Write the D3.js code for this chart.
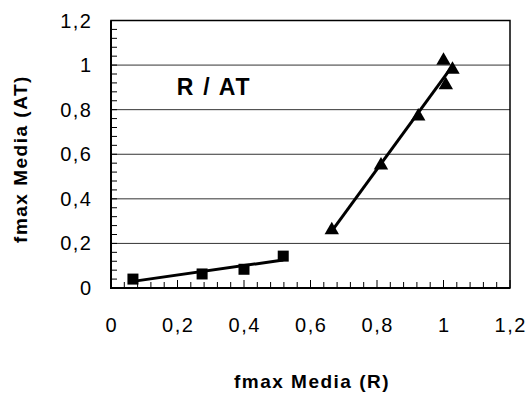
<!DOCTYPE html>
<html>
<head>
<meta charset="utf-8">
<script src="https://d3js.org/d3.v7.min.js"></script>
<style>
    body { margin: 0; background: #fff; }
    svg text { font-family: 'Liberation Sans', Arial, sans-serif; fill: #000; }
</style>
</head>
<body>
<svg id="chart" width="528" height="394"></svg>
<script>
// values
const squareX = [0.066, 0.274, 0.40, 0.518];
const squareY = [0.040, 0.063, 0.084, 0.143];
const triX = [0.664, 0.812, 0.924, 1.0, 1.027, 1.007];
const triY = [0.26, 0.55, 0.77, 1.02, 0.98, 0.91];
const xTicks = [0, 0.2, 0.4, 0.6, 0.8, 1, 1.2];
const yTicks = [0, 0.2, 0.4, 0.6, 0.8, 1, 1.2];
const chartTitle = 'R / AT';
const xTitle = 'fmax Media (R)';
const yTitle = 'fmax Media (AT)';

const fmt = v => String(v).replace('.', ',');

const svg = d3.select('#chart');
const m = { left: 111, right: 510, top: 20.5, bottom: 288 };

const x = d3.scaleLinear().domain([0, 1.2]).range([m.left, m.right]);
const y = d3.scaleLinear().domain([0, 1.2]).range([m.bottom, m.top]);

// gridlines
svg.append('g').selectAll('line')
    .data(yTicks.filter(v => v > 0 && v < 1.2))
    .enter().append('line')
    .attr('x1', m.left).attr('x2', m.right)
    .attr('y1', d => y(d)).attr('y2', d => y(d))
    .attr('stroke', '#333').attr('stroke-width', 1);

// frame
svg.append('rect')
    .attr('x', m.left).attr('y', m.top)
    .attr('width', m.right - m.left).attr('height', m.bottom - m.top)
    .attr('fill', 'none').attr('stroke', '#000').attr('stroke-width', 1.5);

// inner minor ticks
const minor = d3.range(0, 1.2001, 0.04);
svg.append('g').selectAll('line')
    .data(minor)
    .enter().append('line')
    .attr('x1', m.left).attr('x2', m.left + 6)
    .attr('y1', d => y(d)).attr('y2', d => y(d))
    .attr('stroke', '#000').attr('stroke-width', 1);
svg.append('g').selectAll('line')
    .data(minor)
    .enter().append('line')
    .attr('x1', d => x(d)).attr('x2', d => x(d))
    .attr('y1', m.bottom).attr('y2', (d, i) => m.bottom - (i % 5 === 0 ? 8 : 6))
    .attr('stroke', '#000').attr('stroke-width', 1);

// thicker left and bottom axis lines
svg.append('line').attr('x1', m.left).attr('x2', m.left)
    .attr('y1', m.top).attr('y2', m.bottom + 1)
    .attr('stroke', '#000').attr('stroke-width', 2);
svg.append('line').attr('x1', m.left - 1).attr('x2', m.right)
    .attr('y1', m.bottom).attr('y2', m.bottom)
    .attr('stroke', '#000').attr('stroke-width', 2);

// tick labels
const ls = 1.5;
svg.append('g').selectAll('text')
    .data(yTicks)
    .enter().append('text')
    .attr('x', 91 + ls).attr('y', d => y(d) + 7)
    .attr('text-anchor', 'end')
    .style('font-size', '20px').style('letter-spacing', ls + 'px')
    .text(fmt);
svg.append('g').selectAll('text')
    .data(xTicks)
    .enter().append('text')
    .attr('x', d => x(d) + ls / 2).attr('y', 332)
    .attr('text-anchor', 'middle')
    .style('font-size', '20px').style('letter-spacing', ls + 'px')
    .text(fmt);

// linear trendlines
function fit(xs, ys) {
    const mx = d3.mean(xs), my = d3.mean(ys);
    const sxy = d3.sum(xs, (v, i) => (v - mx) * (ys[i] - my));
    const sxx = d3.sum(xs, v => (v - mx) * (v - mx));
    const b = sxy / sxx;
    const a = my - b * mx;
    const x0 = d3.min(xs), x1 = d3.max(xs);
    return [[x0, a + b * x0], [x1, a + b * x1]];
}
const line = d3.line().x(d => x(d[0])).y(d => y(d[1]));
[fit(squareX, squareY), fit(triX, triY)].forEach(seg => {
    svg.append('path').attr('d', line(seg))
        .attr('fill', 'none').attr('stroke', '#000').attr('stroke-width', 3);
});

// markers
const sq = 11;
svg.append('g').selectAll('rect')
    .data(squareX.map((v, i) => [v, squareY[i]]))
    .enter().append('rect')
    .attr('x', d => x(d[0]) - sq / 2).attr('y', d => y(d[1]) - sq / 2)
    .attr('width', sq).attr('height', sq).attr('fill', '#000');
const tri = d3.symbol().type(d3.symbolTriangle).size(90);
svg.append('g').selectAll('path')
    .data(triX.map((v, i) => [v, triY[i]]))
    .enter().append('path')
    .attr('d', tri)
    .attr('transform', d => `translate(${x(d[0])},${y(d[1])})`)
    .attr('fill', '#000');

// titles
svg.append('text').attr('x', 214).attr('y', 95)
    .attr('text-anchor', 'middle')
    .style('font-size', '23px').style('font-weight', 'bold').style('letter-spacing', '1.8px')
    .text(chartTitle);
svg.append('text').attr('x', 312).attr('y', 388)
    .attr('text-anchor', 'middle')
    .style('font-size', '19px').style('font-weight', 'bold').style('letter-spacing', '1.5px')
    .text(xTitle);
svg.append('text')
    .attr('transform', 'translate(27,159) rotate(-90)')
    .attr('text-anchor', 'middle')
    .style('font-size', '19px').style('font-weight', 'bold').style('letter-spacing', '1.5px')
    .text(yTitle);
</script>
</body>
</html>
